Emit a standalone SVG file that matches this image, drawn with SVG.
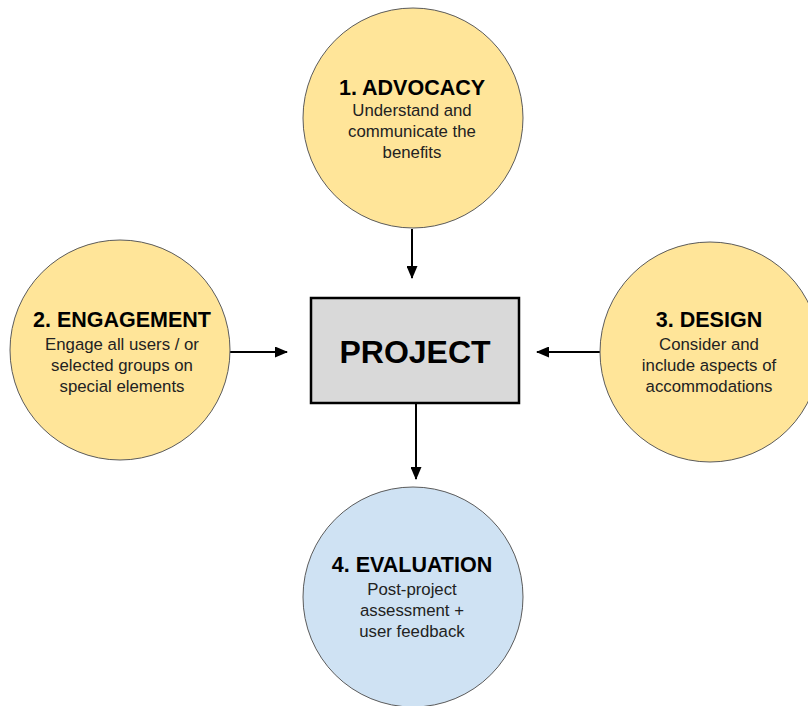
<svg xmlns="http://www.w3.org/2000/svg" width="808" height="706" viewBox="0 0 808 706">
<style>
.c{stroke:#5b5b5b;stroke-width:1}
.y{fill:#ffe599}
.b{fill:#cfe2f3}
.t{font-family:"Liberation Sans",Arial,sans-serif;font-weight:bold;font-size:21.5px;fill:#000;text-anchor:middle}
.s{font-family:"Liberation Sans",Arial,sans-serif;font-size:16.8px;fill:#222;text-anchor:middle}
.p{font-family:"Liberation Sans",Arial,sans-serif;font-weight:bold;font-size:32px;fill:#000;text-anchor:middle}
.e{stroke:#000;stroke-width:2;fill:none}
</style>
<defs>
<marker id="ah" markerWidth="13" markerHeight="11" refX="12" refY="5.5" orient="auto" markerUnits="userSpaceOnUse">
<path d="M0,0 L13,5.5 L0,11 Z" fill="#000"/>
</marker>
</defs>
<rect width="808" height="706" fill="#fff"/>
<g id="connectors">
<line class="e" x1="412" y1="229" x2="412" y2="278" marker-end="url(#ah)"/>
<line class="e" x1="230" y1="352" x2="287" y2="352" marker-end="url(#ah)"/>
<line class="e" x1="600" y1="352" x2="537" y2="352" marker-end="url(#ah)"/>
<line class="e" x1="416" y1="404" x2="416" y2="479" marker-end="url(#ah)"/>
</g>
<g id="advocacy">
<circle class="c y" cx="413" cy="118" r="110"/>
<text class="t" x="412" y="95">1. ADVOCACY</text>
<text class="s" x="412" y="116">Understand and</text>
<text class="s" x="412" y="137">communicate the</text>
<text class="s" x="412" y="158">benefits</text>
</g>
<g id="engagement">
<circle class="c y" cx="120" cy="350" r="110"/>
<text class="t" x="122" y="327">2. ENGAGEMENT</text>
<text class="s" x="122" y="350">Engage all users / or</text>
<text class="s" x="122" y="371">selected groups on</text>
<text class="s" x="122" y="392">special elements</text>
</g>
<g id="design">
<circle class="c y" cx="710" cy="352" r="110"/>
<text class="t" x="709" y="327">3. DESIGN</text>
<text class="s" x="709" y="350">Consider and</text>
<text class="s" x="709" y="371">include aspects of</text>
<text class="s" x="709" y="392">accommodations</text>
</g>
<g id="project">
<rect x="311" y="298" width="208" height="105" fill="#d9d9d9" stroke="#000" stroke-width="2.5"/>
<text class="p" x="415" y="363">PROJECT</text>
</g>
<g id="evaluation">
<circle class="c b" cx="413" cy="597" r="110"/>
<text class="t" x="412" y="572">4. EVALUATION</text>
<text class="s" x="412" y="595">Post-project</text>
<text class="s" x="412" y="616">assessment +</text>
<text class="s" x="412" y="637">user feedback</text>
</g>
</svg>
